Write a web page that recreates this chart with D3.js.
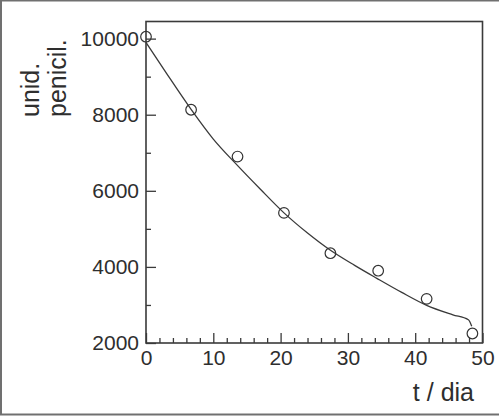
<!DOCTYPE html>
<html>
<head>
<meta charset="utf-8">
<script src="https://cdn.jsdelivr.net/npm/d3@7"></script>
<style>
  body { margin: 0; background: #fff; }
  svg { display: block; font-family: "Liberation Sans", Arial, sans-serif; }
</style>
</head>
<body>
<svg id="chart" width="499" height="416"></svg>
<script>
// measured points (t in days, penicillin units)
var days = [0, 6.7, 13.6, 20.5, 27.4, 34.5, 41.7, 48.5];
var units = [10050, 8130, 6900, 5420, 4360, 3900, 3160, 2250];

// fitted curve
var curveDays = [0, 3, 6.7, 10, 13.3, 17, 20.5, 24, 27.3, 31, 34.3, 38, 41.7, 45.6, 47.9, 48.4];
var curveUnits = [9900, 9100, 8140, 7360, 6720, 6040, 5420, 4890, 4450, 4040, 3700, 3330, 2990, 2740, 2610, 2440];

var xMajor = [0, 10, 20, 30, 40, 50];
var xMinor = [2, 4, 6, 8, 12, 14, 16, 18, 22, 24, 26, 28, 32, 34, 36, 38, 42, 44, 46, 48];
var yMajor = [2000, 4000, 6000, 8000, 10000];
var yMinor = [3000, 5000, 7000, 9000];

var margin = {left: 146, top: 21.5, right: 16.5, bottom: 73};
var width = 499 - margin.left - margin.right;
var height = 416 - margin.top - margin.bottom;

var svg = d3.select('#chart');

// outer border of the picture
svg.append('rect')
   .attr('x', 1).attr('y', 0.5)
   .attr('width', 520).attr('height', 414)
   .attr('fill', 'none').attr('stroke', '#707070').attr('stroke-width', 2);

var g = svg.append('g').attr('transform', 'translate(' + margin.left + ',' + margin.top + ')');

var x = d3.scaleLinear().domain([0, 50]).range([0, width]);
var y = d3.scaleLinear().domain([2000, 10450]).range([height, 0]);

// minor ticks
g.append('g').attr('transform', 'translate(0,' + height + ')')
 .call(d3.axisBottom(x).tickValues(xMinor).tickSize(-5).tickSizeOuter(0).tickFormat(''));
g.append('g')
 .call(d3.axisLeft(y).tickValues(yMinor).tickSize(-5).tickSizeOuter(0).tickFormat(''));

// major ticks with labels
g.append('g').attr('class', 'xaxis').attr('transform', 'translate(0,' + height + ')')
 .call(d3.axisBottom(x).tickValues(xMajor).tickSize(-10).tickSizeOuter(0).tickPadding(7));
g.append('g').attr('class', 'yaxis')
 .call(d3.axisLeft(y).tickValues(yMajor).tickSize(-10).tickSizeOuter(0).tickPadding(7).tickFormat(d3.format('d')));

g.selectAll('.domain').remove();
g.selectAll('.tick line').attr('stroke', '#3a3a3a').attr('stroke-width', 1.3);
g.selectAll('.tick text').attr('fill', '#2e2e2e').style('font-size', '21px')
 .style('font-family', '"Liberation Sans", Arial, sans-serif');

// plot frame
g.append('rect')
 .attr('width', width).attr('height', height)
 .attr('fill', 'none').attr('stroke', '#3a3a3a').attr('stroke-width', 1.6);

// curve
var line = d3.line()
  .x(function(d, i) { return x(curveDays[i]); })
  .y(function(d) { return y(d); })
  .curve(d3.curveMonotoneX);

g.append('path')
 .datum(curveUnits)
 .attr('d', line)
 .attr('fill', 'none').attr('stroke', '#3a3a3a').attr('stroke-width', 1.3);

// points
g.selectAll('circle.pt')
 .data(units).enter().append('circle')
 .attr('class', 'pt')
 .attr('cx', function(d, i) { return x(days[i]); })
 .attr('cy', function(d) { return y(d); })
 .attr('r', 5.3)
 .attr('fill', 'none').attr('stroke', '#333').attr('stroke-width', 1.2);

// axis titles
svg.append('text')
   .attr('x', 474).attr('y', 401)
   .attr('text-anchor', 'end')
   .attr('fill', '#2e2e2e').style('font-size', '25px')
   .text('t / dia');

var ytitle = svg.append('text')
   .attr('transform', 'translate(39,117) rotate(-90)')
   .attr('fill', '#2e2e2e').style('font-size', '25px');
ytitle.append('tspan').attr('x', 0).attr('y', 0).text('unid.');
ytitle.append('tspan').attr('x', 0).attr('y', 27).text('penicil.');
</script>
</body>
</html>
